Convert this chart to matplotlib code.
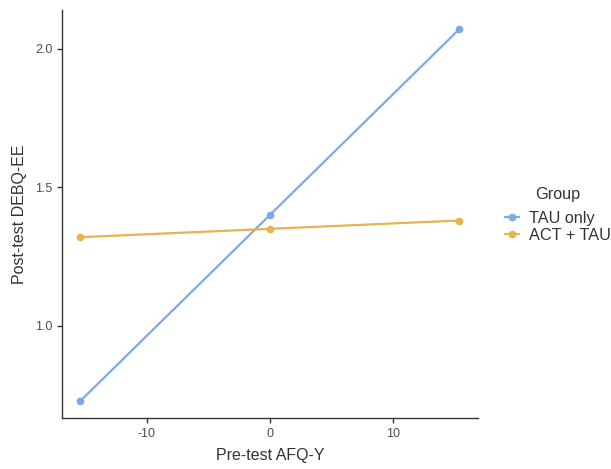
import numpy as np
import matplotlib.pyplot as plt
from matplotlib.lines import Line2D

plt.rcParams['font.family'] = ['Liberation Sans', 'DejaVu Sans']
plt.rcParams['axes.unicode_minus'] = False

# data
pre_test = [-15.4, 0.0, 15.4]
tau_only = [0.73, 1.40, 2.07]
act_tau = [1.32, 1.35, 1.38]
groups = ['TAU only', 'ACT + TAU']
colors = ['#7FA8E6', '#E7B24F']

fig = plt.figure(figsize=(6.11, 4.69), dpi=100)
ax = fig.add_axes([0.1015, 0.1087, 0.6805, 0.87])

for vals, c in zip([tau_only, act_tau], colors):
    ax.plot(pre_test, vals, color=c, lw=1.6, marker='o', ms=4.5, mec=c)

ax.set_xlim(-16.9, 16.9)
ax.set_ylim(0.668, 2.139)
ax.set_xticks([-10, 0, 10])
ax.set_yticks([1.0, 1.5, 2.0])
ax.set_yticklabels(['1.0', '1.5', '2.0'])

for s in ['top', 'right']:
    ax.spines[s].set_visible(False)
for s in ['left', 'bottom']:
    ax.spines[s].set_color('#333333')
    ax.spines[s].set_linewidth(1.0)
ax.tick_params(colors='#333333', labelcolor='#4d4d4d', labelsize=9, length=3.5, width=1.0)

ax.set_xlabel('Pre-test AFQ-Y', fontsize=11.5, color='#333333', labelpad=6)
ax.set_ylabel('Post-test DEBQ-EE', fontsize=11.5, color='#333333', labelpad=6)

# legend title drawn separately to get the larger gap above the entries
fig.text(0.912, 0.586, 'Group', fontsize=11.7, color='#333333', ha='center', va='center')
handles = [Line2D([0], [0], color=c, lw=1.6, marker='o', ms=4.5) for c in colors]
leg = fig.legend(handles, groups, loc='center left',
                 bbox_to_anchor=(0.826, 0.516), frameon=False, fontsize=11.7,
                 handlelength=0.9, handletextpad=0.6,
                 labelspacing=0.1, borderpad=0, borderaxespad=0)
for t in leg.get_texts():
    t.set_color('#333333')

fig.savefig('out.png', dpi=100)
